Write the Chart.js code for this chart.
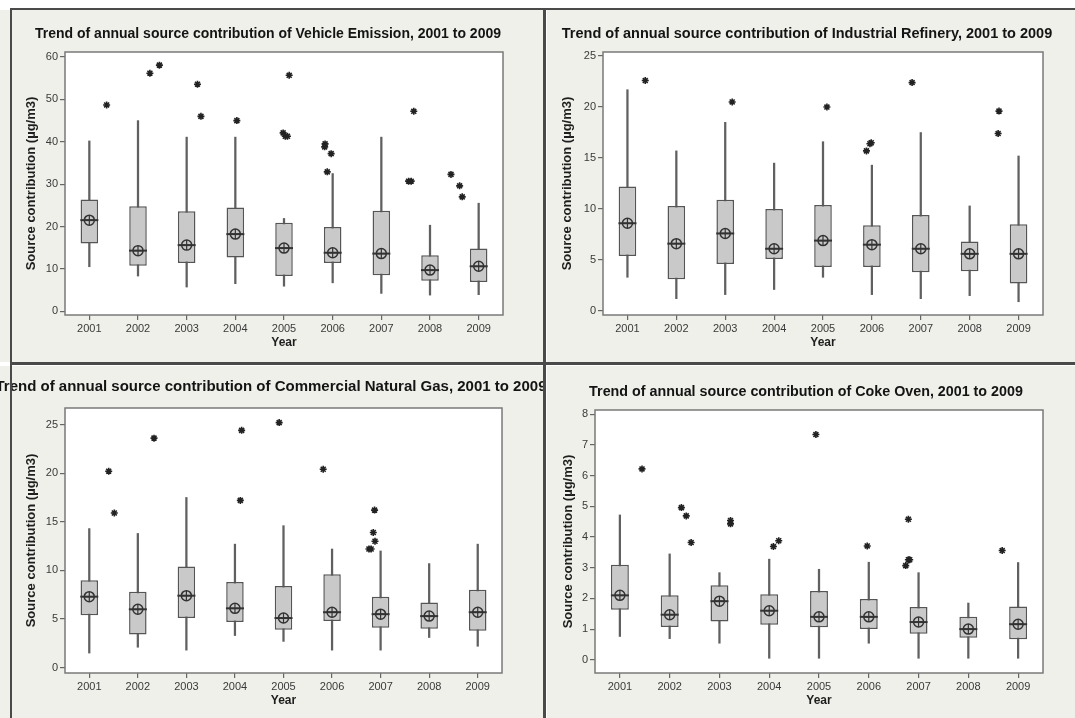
<!DOCTYPE html>
<html>
<head>
<meta charset="utf-8">
<script src="https://cdn.jsdelivr.net/npm/chart.js@4/dist/chart.umd.min.js"></script>
<style>
  html, body { margin: 0; padding: 0; background: #ffffff; }
  #page { position: relative; width: 1075px; height: 718px; overflow: hidden; background: #ffffff; }
  .pane { position: absolute; }
  .line { position: absolute; background: #4a4a4a; z-index: 5; }
</style>
</head>
<body>
<div id="page">
  <div class="pane" style="left:0px;top:10px;width:543px;height:352px;"><canvas id="c1"></canvas></div>
  <div class="pane" style="left:547px;top:10px;width:528px;height:352px;"><canvas id="c2"></canvas></div>
  <div class="pane" style="left:0px;top:366px;width:543px;height:352px;"><canvas id="c3"></canvas></div>
  <div class="pane" style="left:547px;top:366px;width:528px;height:352px;"><canvas id="c4"></canvas></div>
  <div class="line" style="left:10px;top:8px;width:1065px;height:2px;"></div>
  <div class="line" style="left:10px;top:8px;width:2px;height:710px;"></div>
  <div class="line" style="left:543px;top:8px;width:3px;height:710px;"></div>
  <div class="line" style="left:10px;top:362px;width:1065px;height:3px;"></div>
</div>
<script>
// ---------------- DATA ----------------
const years = ['2001','2002','2003','2004','2005','2006','2007','2008','2009'];

// Vehicle Emission
const veLow    = [10.5, 8.3, 5.7, 6.5, 5.9, 6.7, 4.2, 3.8, 3.9];
const veQ1     = [16.0, 10.7, 11.4, 12.7, 8.3, 11.4, 8.5, 7.2, 6.9];
const veMedian = [21.5, 14.3, 15.6, 18.2, 14.9, 13.8, 13.6, 9.7, 10.6];
const veQ3     = [26.4, 24.8, 23.6, 24.5, 20.9, 19.9, 23.7, 13.2, 14.8];
const veHigh   = [40.2, 45.0, 41.1, 41.1, 21.9, 32.5, 41.1, 20.3, 25.5];
const veOutliers = [
  ['2001',48.7,-0.10], ['2002',56.2,-0.10], ['2002',58.1,0.12],
  ['2003',53.6,0.00], ['2003',46.0,0.08], ['2004',45.0,-0.09],
  ['2005',55.7,0.12], ['2005',42.1,-0.02], ['2005',41.3,0.03], ['2005',41.3,0.08],
  ['2006',39.5,-0.05], ['2006',38.8,-0.06], ['2006',37.2,0.09], ['2006',32.9,0.00],
  ['2008',30.7,-0.12], ['2008',30.7,-0.06], ['2008',47.2,0.00],
  ['2009',32.3,-0.14], ['2009',29.6,0.06], ['2009',27.0,0.12]
];
const veTicks = [0,10,20,30,40,50,60];

// Industrial Refinery
const irLow    = [3.3, 1.2, 1.6, 2.1, 3.3, 1.6, 1.2, 1.5, 0.9];
const irQ1     = [5.4, 3.1, 4.6, 5.1, 4.3, 4.3, 3.8, 3.9, 2.7];
const irMedian = [8.6, 6.6, 7.6, 6.1, 6.9, 6.5, 6.1, 5.6, 5.6];
const irQ3     = [12.2, 10.3, 10.9, 10.0, 10.4, 8.4, 9.4, 6.8, 8.5];
const irHigh   = [21.7, 15.7, 18.5, 14.5, 16.6, 14.3, 17.5, 10.3, 15.2];
const irOutliers = [
  ['2001',22.6,-0.09], ['2003',20.5,-0.09], ['2005',20.0,0.09],
  ['2006',15.7,0.00], ['2006',16.4,0.08], ['2006',16.5,0.11],
  ['2007',22.4,0.05], ['2009',17.4,0.03], ['2009',19.6,0.05]
];
const irTicks = [0,5,10,15,20,25];

// Commercial Natural Gas
const cgLow    = [1.5, 2.1, 1.8, 3.3, 2.7, 1.8, 1.8, 3.1, 2.2];
const cgQ1     = [5.4, 3.4, 5.1, 4.7, 3.9, 4.8, 4.1, 4.0, 3.8];
const cgMedian = [7.3, 6.0, 7.4, 6.1, 5.1, 5.7, 5.5, 5.3, 5.7];
const cgQ3     = [9.0, 7.8, 10.4, 8.8, 8.4, 9.6, 7.3, 6.7, 8.0];
const cgHigh   = [14.3, 13.8, 17.5, 12.7, 14.6, 12.2, 12.0, 10.7, 12.7];
const cgOutliers = [
  ['2001',20.2,-0.05], ['2001',15.9,0.08], ['2002',23.6,0.00],
  ['2004',17.2,0.00], ['2004',24.4,0.03], ['2005',25.2,-0.10],
  ['2006',20.4,-0.08], ['2007',12.2,-0.02], ['2007',12.2,0.03],
  ['2007',13.9,0.08], ['2007',13.0,0.12], ['2007',16.2,0.11]
];
const cgTicks = [0,5,10,15,20,25];

// Coke Oven
const coLow    = [0.76, 0.69, 0.54, 0.05, 0.05, 0.54, 0.05, 0.05, 0.05];
const coQ1     = [1.63, 1.07, 1.25, 1.14, 1.06, 1.00, 0.85, 0.72, 0.67];
const coMedian = [2.10, 1.47, 1.91, 1.60, 1.40, 1.40, 1.23, 1.00, 1.16];
const coQ3     = [3.10, 2.10, 2.43, 2.14, 2.24, 1.98, 1.72, 1.40, 1.74];
const coHigh   = [4.72, 3.45, 2.84, 3.28, 2.95, 3.18, 2.84, 1.85, 3.17];
const coOutliers = [
  ['2001',6.22,0.00], ['2002',4.96,-0.11], ['2002',4.69,0.00], ['2002',3.82,0.11],
  ['2003',4.54,0.00], ['2003',4.43,0.00], ['2004',3.69,-0.03], ['2004',3.88,0.09],
  ['2005',7.34,-0.07], ['2006',3.71,0.09], ['2007',3.07,-0.04], ['2007',3.26,0.02],
  ['2007',3.26,0.05], ['2007',4.58,0.02], ['2009',3.56,0.14]
];
const coTicks = [0,1,2,3,4,5,6,7,8];

// ---------------- RENDERING ----------------
Chart.defaults.font.family = "'Liberation Sans', Arial, sans-serif";
Chart.defaults.animation = false;

const decor = {
  id: 'decor',
  beforeDraw(chart, args, o) {
    const ctx = chart.ctx, a = chart.chartArea;
    ctx.save();
    ctx.fillStyle = '#eef0e9';
    ctx.fillRect(0, 0, chart.width, chart.height);
    ctx.fillStyle = '#ffffff';
    ctx.fillRect(a.left, a.top, a.right - a.left, a.bottom - a.top);
    ctx.restore();
  },
  afterDraw(chart, args, o) {
    const ctx = chart.ctx, a = chart.chartArea;
    ctx.save();
    ctx.strokeStyle = '#7a7a7a';
    ctx.lineWidth = 1.5;
    ctx.strokeRect(a.left, a.top, a.right - a.left, a.bottom - a.top);
    ctx.fillStyle = '#141414';
    ctx.font = "bold " + o.size + "px 'Liberation Sans', Arial, sans-serif";
    ctx.textAlign = 'center';
    ctx.textBaseline = 'middle';
    ctx.fillText(o.text, o.x, o.y);
    ctx.restore();
  }
};

function makeChart(id, d, lay) {
  const idx = (y) => years.indexOf(y);
  const cfg = {
    type: 'bar',
    data: {
      labels: years,
      datasets: [
        { // whiskers
          data: years.map((_, i) => [d.low[i], d.high[i]]),
          backgroundColor: '#606060', borderWidth: 0,
          barThickness: 1.6, grouped: false, order: 5
        },
        { // boxes
          data: years.map((_, i) => [d.q1[i], d.q3[i]]),
          backgroundColor: '#c9c9c9', borderColor: '#555555', borderWidth: 1.5,
          borderSkipped: false, barPercentage: 0.36, categoryPercentage: 1,
          grouped: false, order: 4
        },
        { // median line
          type: 'line', data: d.median, showLine: false,
          pointStyle: 'line', pointRadius: 9, pointBorderWidth: 2,
          pointBorderColor: '#333333', order: 3
        },
        { // circle symbol
          type: 'line', data: d.median, showLine: false,
          pointStyle: 'circle', pointRadius: 5, pointBorderWidth: 1.5,
          pointBorderColor: '#333333', pointBackgroundColor: 'rgba(0,0,0,0)', order: 2
        },
        { // cross in circle
          type: 'line', data: d.median, showLine: false,
          pointStyle: 'cross', pointRadius: 5, pointBorderWidth: 1.2,
          pointBorderColor: '#333333', order: 1
        },
        { // outliers
          type: 'scatter', xAxisID: 'x2',
          data: d.outliers.map(([y, v, j]) => ({ x: idx(y) + j, y: v })),
          pointStyle: 'star', pointRadius: 3.5, pointBorderWidth: 1.6,
          pointBorderColor: '#222222', order: 0
        }
      ]
    },
    options: {
      responsive: false,
      events: [],
      layout: { padding: { left: lay.pl, right: lay.pr, top: lay.pt, bottom: lay.pb } },
      plugins: {
        legend: { display: false },
        tooltip: { enabled: false },
        title: { display: false },
        decor: { text: lay.title, x: lay.tx, y: lay.ty, size: lay.ts }
      },
      scales: {
        x: {
          type: 'category', offset: true,
          grid: { display: true, drawOnChartArea: false, drawTicks: true, tickLength: 5, offset: false, color: '#666666', lineWidth: 1.2 },
          border: { display: false },
          ticks: { color: '#3a3a3a', font: { size: 11 }, padding: 2, maxRotation: 0 },
          title: { display: true, text: 'Year', color: '#1e1e1e', font: { size: 12, weight: 'bold' }, padding: { top: 0, bottom: 2 } },
          afterFit: (s) => { s.height = lay.xh; }
        },
        x2: { type: 'linear', display: false, min: -0.5, max: 8.5 },
        y: {
          min: lay.ymin, max: lay.ymax,
          afterBuildTicks: (s) => { s.ticks = d.ticks.map(v => ({ value: v })); },
          grid: { display: true, drawOnChartArea: false, drawTicks: true, tickLength: 5, color: '#666666', lineWidth: 1.2 },
          border: { display: false },
          ticks: { color: '#3a3a3a', font: { size: 11 }, padding: 2 },
          title: { display: true, text: 'Source contribution (µg/m3)', color: '#1e1e1e', font: { size: 13, weight: 'bold' }, padding: { top: 2, bottom: 0 } },
          afterFit: (s) => { s.width = lay.yw; }
        }
      }
    },
    plugins: [decor]
  };
  const cv = document.getElementById(id);
  cv.width = lay.w; cv.height = lay.h;
  cv.style.width = lay.w + 'px'; cv.style.height = lay.h + 'px';
  return new Chart(cv, cfg);
}

makeChart('c1',
  { low: veLow, q1: veQ1, median: veMedian, q3: veQ3, high: veHigh, outliers: veOutliers, ticks: veTicks },
  { w: 543, h: 352, pl: 22, yw: 43, pr: 40, pt: 42, pb: 10, xh: 37, ymin: -0.9, ymax: 61.2,
    title: 'Trend of annual source contribution of Vehicle Emission, 2001 to 2009', tx: 268, ty: 24, ts: 14 });

makeChart('c2',
  { low: irLow, q1: irQ1, median: irMedian, q3: irQ3, high: irHigh, outliers: irOutliers, ticks: irTicks },
  { w: 528, h: 352, pl: 11, yw: 45, pr: 32, pt: 42, pb: 10, xh: 37, ymin: -0.4, ymax: 25.4,
    title: 'Trend of annual source contribution of Industrial Refinery, 2001 to 2009', tx: 260, ty: 24, ts: 14.5 });

makeChart('c3',
  { low: cgLow, q1: cgQ1, median: cgMedian, q3: cgQ3, high: cgHigh, outliers: cgOutliers, ticks: cgTicks },
  { w: 543, h: 352, pl: 22, yw: 43, pr: 41, pt: 42, pb: 8, xh: 37, ymin: -0.55, ymax: 26.7,
    title: 'Trend of annual source contribution of Commercial Natural Gas, 2001 to 2009', tx: 271, ty: 21, ts: 15 });

makeChart('c4',
  { low: coLow, q1: coQ1, median: coMedian, q3: coQ3, high: coHigh, outliers: coOutliers, ticks: coTicks },
  { w: 528, h: 352, pl: 12, yw: 36, pr: 32, pt: 44, pb: 8, xh: 37, ymin: -0.43, ymax: 8.14,
    title: 'Trend of annual source contribution of Coke Oven, 2001 to 2009', tx: 259, ty: 26, ts: 14.3 });
</script>
</body>
</html>
